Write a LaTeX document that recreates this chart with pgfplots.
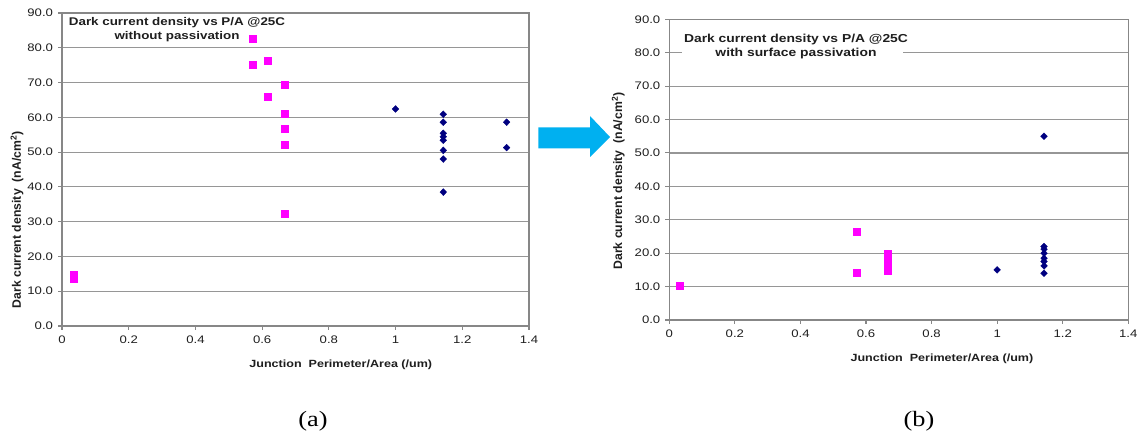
\documentclass[border=0pt]{standalone}
\usepackage{fontspec}
\setmainfont[FakeStretch=1.2]{Liberation Sans}
\newfontfamily\ylabfont{Liberation Sans}
\newfontfamily\capfont[FakeStretch=1.2]{Liberation Serif}
\usepackage{pgfplots}
\pgfplotsset{compat=1.18}
\definecolor{pinkm}{RGB}{255,0,255}
\definecolor{navyd}{RGB}{0,0,128}
\definecolor{arrowc}{RGB}{0,176,240}
\definecolor{gridc}{RGB}{150,150,150}
\definecolor{framec}{RGB}{135,135,135}
\definecolor{textc}{RGB}{30,30,30}
\pgfplotsset{
 dcstyle/.style={
  scale only axis,
  xmin=0,xmax=1.4,ymin=0,ymax=90,
  xtick={0,0.2,0.4,0.6,0.8,1,1.2,1.4},
  xticklabels={0,0.2,0.4,0.6,0.8,1,1.2,1.4},
  ytick={0,10,20,30,40,50,60,70,80,90},
  yticklabels={0.0,10.0,20.0,30.0,40.0,50.0,60.0,70.0,80.0,90.0},
  tick align=outside, xtick pos=bottom, ytick pos=left,
  major tick length=4bp,
  ymajorgrids, grid style={gridc, line width=1.2bp},
  axis line style={framec, line width=1.1bp},
  tick style={framec, line width=1.1bp},
  ticklabel style={font=\fontsize{11}{12}\selectfont, text=textc},
  yticklabel style={xshift=-1.5bp},
  xticklabel style={yshift=-2.5bp},
  xlabel style={font=\bfseries\fontsize{10.5}{12}\selectfont, anchor=center, text=textc},
  ylabel style={font=\ylabfont\bfseries\fontsize{12.3}{14}\selectfont, anchor=center, text=textc},
  xlabel={Junction\ \ Perimeter/Area (/um)},
  ylabel={Dark current density\ \ (nA/cm\textsuperscript{2})},
 },
 pinks/.style={only marks, mark=square*, mark size=3.5bp, color=pinkm},
 navys/.style={only marks, mark=diamond*, mark size=3.4bp, color=navyd, mark options={xscale=1.3}},
}
\begin{document}
\begin{tikzpicture}
\path[use as bounding box] (0,0) rectangle (1140bp,436bp);
% (a)
\begin{axis}[dcstyle, at={(62bp,110bp)}, anchor=south west, width=467bp, height=313bp,
  xlabel style={at={(rel axis cs:0.597,-0.1246)}},
  ylabel style={at={(rel axis cs:-0.0964,0.339)}}]
\addplot[pinks] coordinates {
 (0.034,14.7) (0.034,13.5) (0.571,82.7) (0.571,75.2) (0.617,76.4) (0.617,65.9)
 (0.667,69.3) (0.667,61.0) (0.667,56.8) (0.667,52.1) (0.667,32.3)};
\addplot[navys] coordinates {
 (1.0,62.4) (1.143,60.9) (1.143,58.6) (1.143,55.4) (1.143,54.4) (1.143,53.4)
 (1.143,50.5) (1.143,48.0) (1.143,38.5) (1.333,58.6) (1.333,51.3)};
\end{axis}
% (b)
\begin{axis}[dcstyle, at={(669.3bp,116bp)}, anchor=south west, width=459bp, height=300.7bp,
  xlabel style={at={(rel axis cs:0.594,-0.1297)}},
  ylabel style={at={(rel axis cs:-0.1111,0.462)}}]
\addplot[pinks] coordinates {
 (0.033,10.4) (0.571,26.4) (0.571,14.2) (0.667,19.8) (0.667,18.6) (0.667,17.3)
 (0.667,16.0) (0.667,14.8)};
\addplot[navys] coordinates {
 (1.0,15.0) (1.143,55.0) (1.143,22.0) (1.143,21.2) (1.143,20.0) (1.143,18.5)
 (1.143,17.5) (1.143,16.2) (1.143,14.0)};
\end{axis}
% titles
\node[align=center, font=\bfseries\fontsize{11.2}{14}\selectfont, text=textc] at (177bp,406.3bp)
 {Dark current density vs P/A @25C\\without passivation};
\fill[white] (681.7bp,380bp) rectangle (902.7bp,386bp);
\node[align=center, font=\bfseries\fontsize{11.6}{14}\selectfont, text=textc] at (796bp,389.7bp)
 {Dark current density vs P/A @25C\\with surface passivation};
% arrow
\fill[arrowc] (538.3bp,308.5bp) -- (590bp,308.5bp) -- (590bp,320bp) -- (610bp,299bp)
 -- (590bp,279bp) -- (590bp,287.5bp) -- (538.3bp,287.5bp) -- cycle;
% captions
\node[font=\capfont\fontsize{22}{24}\selectfont] at (313bp,15bp) {(a)};
\node[font=\capfont\fontsize{22}{24}\selectfont] at (919bp,15bp) {(b)};
\end{tikzpicture}
\end{document}
